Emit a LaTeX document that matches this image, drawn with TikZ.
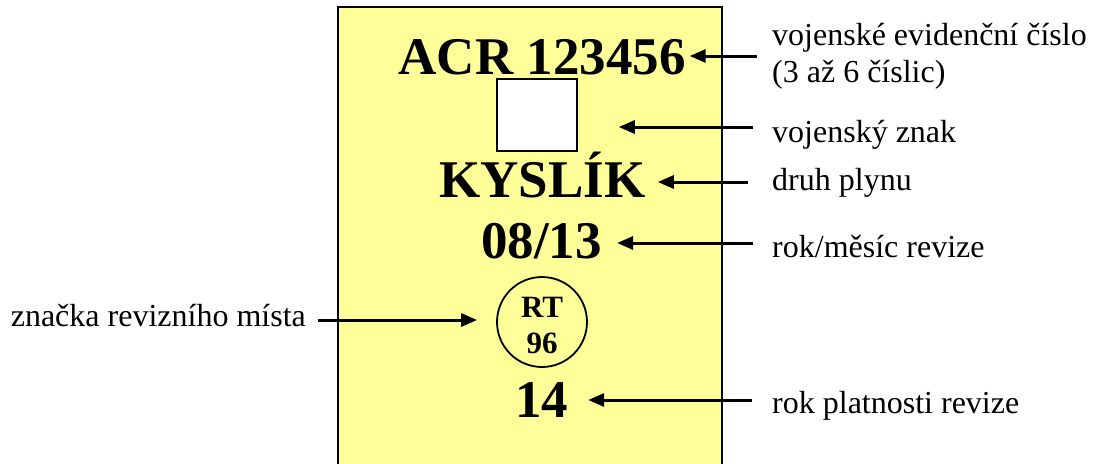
\documentclass[tikz,border=0pt]{standalone}
\usepackage{fontspec}
\setmainfont{Liberation Serif}
\usetikzlibrary{arrows.meta}
\definecolor{plate}{RGB}{255,255,153}
\tikzset{
	big/.style={font=\bfseries\fontsize{53}{60}\selectfont,inner sep=0pt,anchor=base},
	note/.style={font=\fontsize{32}{37}\selectfont,inner sep=0pt,anchor=base west,align=left},
	pointer/.style={line width=3pt,-{Triangle[length=16pt,width=13pt]}}
}
\begin{document}
\begin{tikzpicture}[x=1pt,y=-1pt]
		\useasboundingbox (0,0) rectangle (1094,463);
		\draw[fill=plate,line width=2pt] (338,6.5) rectangle (722,475);
		\node[big] (acr) at (542,74) {ACR 123456};
		\node[draw,fill=white,line width=1.5pt,minimum width=80pt,minimum height=72pt,inner sep=0pt] (badge) at (537,115) {};
		\node[big] (gas) at (542.5,197) {KYSLÍK};
		\node[big] (date) at (541.5,258) {08/13};
		\node[draw,circle,line width=1.8pt,minimum size=90pt,inner sep=0pt] (mark) at (542,322) {};
		\node[font=\bfseries\fontsize{31}{36}\selectfont,inner sep=0pt,anchor=base,align=center] (marktxt) at (542,353) {RT\\96};
		\node[big] (year) at (541.5,417) {14};
		% popisky
		\node[note] (lnum) at (772,82) {vojenské evidenční číslo\\(3 až 6 číslic)};
		\node[note] (lsign) at (772,142) {vojenský znak};
		\node[note] (lgas) at (772,190) {druh plynu};
		\node[note] (ldate) at (772,257) {rok/měsíc revize};
		\node[note] (lyear) at (772,413) {rok platnosti revize};
		\node[font=\fontsize{32}{37}\selectfont,inner sep=0pt,anchor=base east] (lmark) at (306,326) {značka revizního místa};
		% sipky
		\coordinate (t1) at (757,56);
		\coordinate (t2) at (753,127);
		\coordinate (t3) at (748,182);
		\coordinate (t4) at (753,243);
		\coordinate (t5) at (752,400);
		\coordinate (t6) at (318,320);
		\draw[pointer,shorten >=4pt] (t1) -- (t1 -| acr.east);
		\draw[pointer,shorten >=41pt] (t2) -- (t2 -| badge.east);
		\draw[pointer,shorten >=12pt] (t3) -- (t3 -| gas.east);
		\draw[pointer,shorten >=15pt] (t4) -- (t4 -| date.east);
		\draw[pointer,shorten >=20pt] (t5) -- (t5 -| year.east);
		\draw[pointer,shorten >=19pt] (t6) -- (t6 -| mark.west);
\end{tikzpicture}
\end{document}
